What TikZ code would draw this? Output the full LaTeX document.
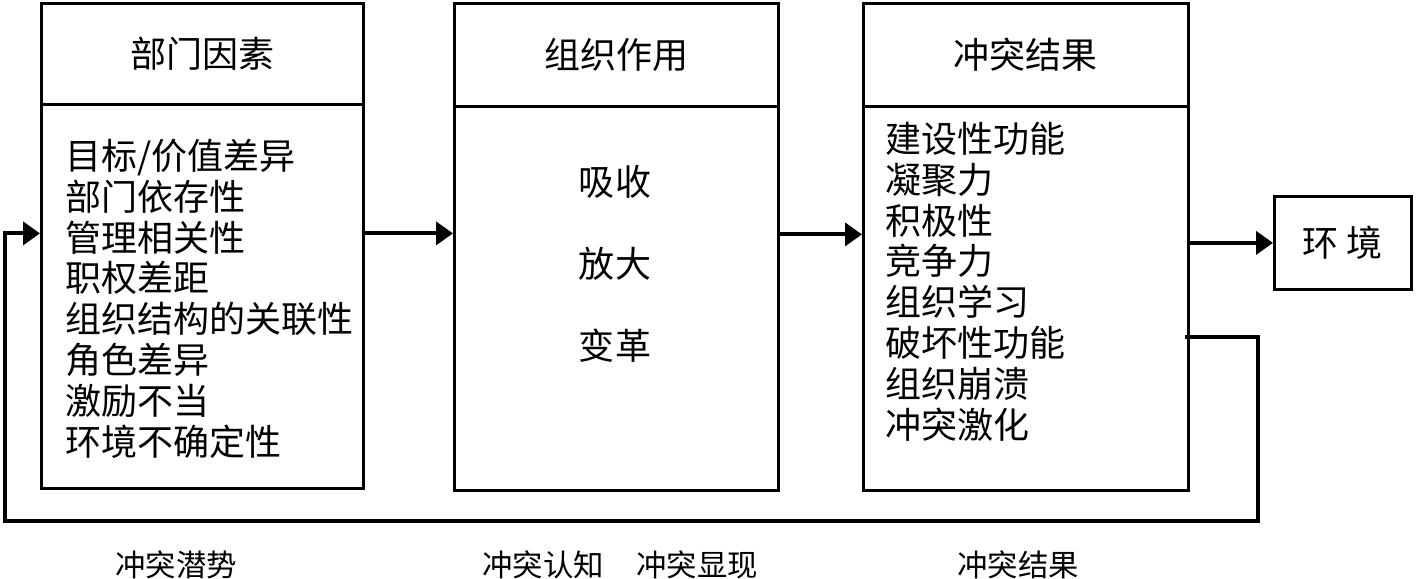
\documentclass[tikz,border=0pt]{standalone}
\usepackage{fontspec}
\setmainfont{Noto Sans CJK SC}
\usepackage{tikz}
\usetikzlibrary{arrows.meta,positioning,calc}
\tikzset{
  head/.style={draw, line width=1.6pt, align=center, inner sep=0pt, font=\fontsize{20.5}{23}\selectfont},
  body/.style={draw, line width=1.6pt, inner sep=0pt},
  items/.style={align=left, inner sep=0pt, font=\fontsize{20.5}{23.2}\selectfont},
  stage/.style={inner sep=0pt, font=\fontsize{17.3}{20}\selectfont},
  line/.style={-{Triangle[length=0.34cm, width=0.46cm]}, line width=2.2pt}
}
\begin{document}
\begin{tikzpicture}[y=-1cm]
    \useasboundingbox (0,0) rectangle (28.36,11.58);
    % three stage boxes
    \node[head, minimum width=6.44cm, minimum height=2.02cm, anchor=north west] (h1) at (0.8,0.04) {部门因素};
    \node[body, minimum width=6.44cm, minimum height=7.68cm, below=-1.6pt of h1] (b1) {};
    \node[head, minimum width=6.48cm, minimum height=2.06cm, anchor=north west] (h2) at (9.06,0.04) {组织作用};
    \node[body, minimum width=6.48cm, minimum height=7.68cm, below=-1.6pt of h2] (b2) {};
    \node[head, minimum width=6.5cm, minimum height=2.06cm, anchor=north west] (h3) at (17.24,0.04) {冲突结果};
    \node[body, minimum width=6.5cm, minimum height=7.68cm, below=-1.6pt of h3] (b3) {};
    \node[head, minimum width=2.74cm, minimum height=1.86cm, anchor=north west] (env) at (25.46,3.9) {环 境};
    % box contents
    \node[items, anchor=north west] (t1) at (1.3,2.78) {目标/价值差异\\部门依存性\\管理相关性\\职权差距\\组织结构的关联性\\角色差异\\激励不当\\环境不确定性};
    \node[items, align=center, anchor=north, font=\fontsize{20.5}{46.6}\selectfont] (t2) at (12.3,3.3) {吸收\\放大\\变革};
    \node[items, anchor=north west] (t3) at (17.7,2.44) {建设性功能\\凝聚力\\积极性\\竞争力\\组织学习\\破坏性功能\\组织崩溃\\冲突激化};
    % stage labels
    \node[stage] (s1) at (3.52,11.3) {冲突潜势};
    \node[stage] (s2) at (10.86,11.3) {冲突认知};
    \node[stage] (s3) at (13.94,11.3) {冲突显现};
    \node[stage] (s4) at (20.36,11.3) {冲突结果};
    % connectors
    \draw[line] ([yshift=1.26cm]b1.east) -- ([yshift=1.26cm]b1.east -| b2.west);
    \draw[line] ([yshift=1.28cm]b2.east) -- ([yshift=1.28cm]b2.east -| b3.west);
    \draw[line] (b3.east |- env.west) -- (env.west);
    \coordinate (fbr) at (25.16,10.42);
    \coordinate (fbl) at (0.1,10.42);
    \draw[line] ([xshift=-0.1cm, yshift=-0.78cm]b3.east) -| (fbr) -- (fbl) |- ([yshift=1.26cm]b1.west);
\end{tikzpicture}
\end{document}
